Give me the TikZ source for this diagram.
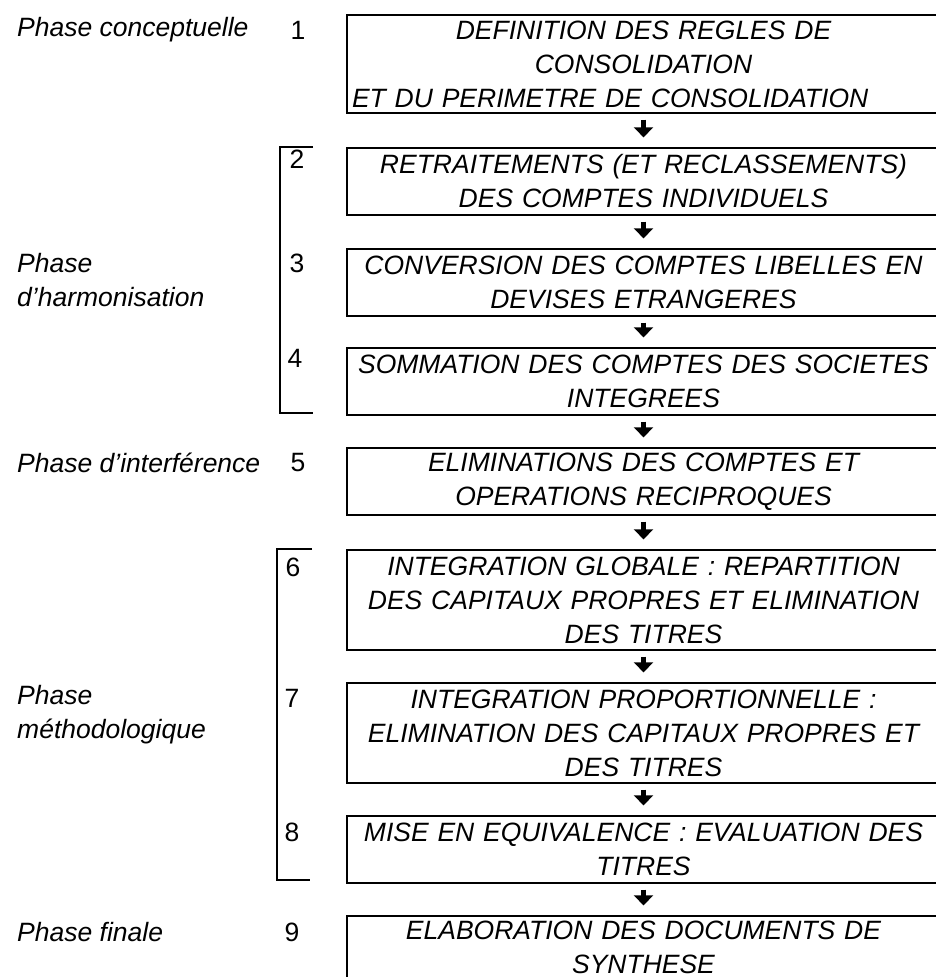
\documentclass[tikz,border=0pt]{standalone}
\usepackage{fontspec}
\setmainfont{Liberation Sans}
\usetikzlibrary{arrows.meta,positioning}

\begin{document}
\begin{tikzpicture}[x=1pt,y=-1pt,
    etape/.style={draw, line width=1.3pt, minimum width=593pt, text width=583pt,
      inner xsep=4pt, inner ysep=0pt, align=center,
      font=\itshape\fontsize{26.5}{34}\selectfont},
    numero/.style={inner sep=0pt, font=\fontsize{26.5}{34}\selectfont},
    phase/.style={anchor=west, align=left, inner sep=0pt,
      font=\itshape\fontsize{26.5}{34}\selectfont},
    fleche/.style={-{Triangle[width=19pt,length=10pt]}, line width=5pt,
      shorten <=6pt, shorten >=10pt},
    crochet/.style={line width=1.3pt}]
  \useasboundingbox (0,0) rectangle (936,977);
  \clip (0,0) rectangle (936,977);

  % Define nodes
  \node[etape, minimum height=98pt] (b1) at (643.5,64)
    {DEFINITION DES REGLES DE\\ CONSOLIDATION\\
     \makebox[\hsize][l]{ET DU PERIMETRE DE CONSOLIDATION}};
  \node[etape, minimum height=67pt] (b2) at (643.5,181.5)
    {RETRAITEMENTS (ET RECLASSEMENTS)\\ DES COMPTES INDIVIDUELS};
  \node[etape, minimum height=67pt] (b3) at (643.5,282.5)
    {CONVERSION DES COMPTES LIBELLES EN\\ DEVISES ETRANGERES};
  \node[etape, minimum height=67pt] (b4) at (643.5,381.5)
    {SOMMATION DES COMPTES DES SOCIETES\\ INTEGREES};
  \node[etape, minimum height=67pt] (b5) at (643.5,481.5)
    {ELIMINATIONS DES COMPTES ET\\ OPERATIONS RECIPROQUES};
  \node[etape, minimum height=100pt] (b6) at (643.5,600)
    {INTEGRATION GLOBALE : REPARTITION\\ DES CAPITAUX PROPRES ET ELIMINATION\\ DES TITRES};
  \node[etape, minimum height=100pt] (b7) at (643.5,733)
    {INTEGRATION PROPORTIONNELLE :\\ ELIMINATION DES CAPITAUX PROPRES ET\\ DES TITRES};
  \node[etape, minimum height=67pt] (b8) at (643.5,849.5)
    {MISE EN EQUIVALENCE : EVALUATION DES\\ TITRES};
  \node[etape, minimum height=62pt] (b9) at (643.5,947)
    {ELABORATION DES DOCUMENTS DE\\ SYNTHESE};

  \node[numero] (n1) at (298,30) {1};
  \node[numero] (n2) at (297,159) {2};
  \node[numero] (n3) at (297,263) {3};
  \node[numero] (n4) at (295,358) {4};
  \node[numero] (n5) at (298,463) {5};
  \node[numero] (n6) at (293,567) {6};
  \node[numero] (n7) at (292,698) {7};
  \node[numero] (n8) at (292,832) {8};
  \node[numero] (n9) at (292,932) {9};

  \node[phase] (p1) at (17,30) {Phase conceptuelle};
  \node[phase] (p2) at (17,280) {Phase\\ d'harmonisation};
  \node[phase] (p3) at (17,463) {Phase d'interférence};
  \node[phase] (p4) at (17,715) {Phase\\ méthodologique};
  \node[phase] (p5) at (17,932) {Phase finale};

  % Brackets
  \draw[crochet] (313,147) -| (280,413) -- (313,413);
  \draw[crochet] (312,549) -| (277,880) -- (310,880);

  % Draw arrows
  \draw[fleche] (b1) -- (b2);
  \draw[fleche] (b2) -- (b3);
  \draw[fleche] (b3) -- (b4);
  \draw[fleche] (b4) -- (b5);
  \draw[fleche] (b5) -- (b6);
  \draw[fleche] (b6) -- (b7);
  \draw[fleche] (b7) -- (b8);
  \draw[fleche] (b8) -- (b9);
\end{tikzpicture}
\end{document}
